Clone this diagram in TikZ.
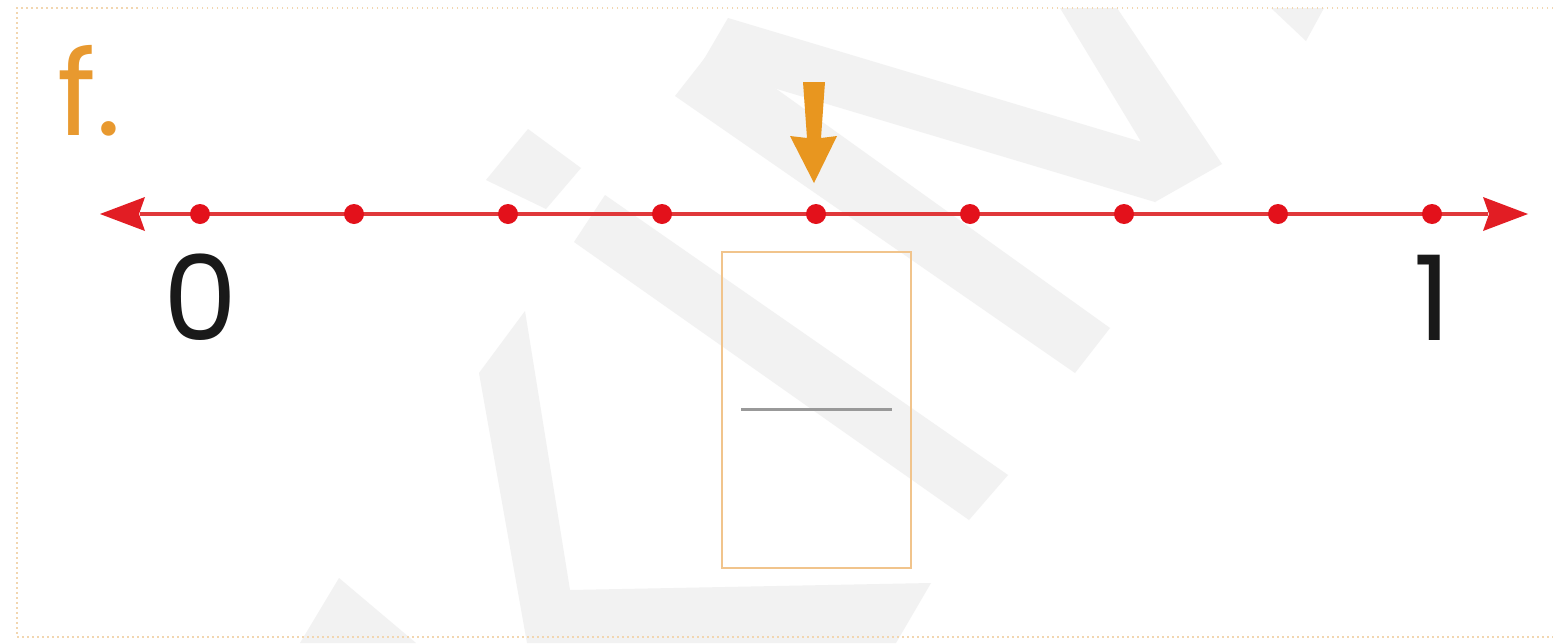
\documentclass[tikz,border=0pt]{standalone}
\usepackage{fontspec}
\newfontfamily\popfont{Poppins}
\definecolor{linered}{HTML}{E0383A}
\definecolor{dotred}{HTML}{E3111B}
\definecolor{arrowred}{HTML}{E21D24}
\definecolor{orangetxt}{HTML}{E8992F}
\definecolor{orangearrow}{HTML}{E8961F}
\definecolor{boxorange}{HTML}{F1C48C}
\definecolor{borderorange}{HTML}{F2D6B0}
\definecolor{wmgray}{HTML}{F2F2F2}
\definecolor{dashgray}{HTML}{999999}
\tikzset{
  tickdot/.style={circle, fill=dotred, draw=none, minimum size=20pt, inner sep=0pt},
  numlabel/.style={font=\popfont\fontsize{118}{118}\selectfont, text=black!90, anchor=base, inner sep=0pt},
  watermark/.style={fill=wmgray, draw=none},
  framedots/.style={draw=borderorange, line width=2pt, dash pattern=on 1.5pt off 3.5pt},
  answerbox/.style={draw=boxorange, line width=2.5pt, minimum width=189pt, minimum height=316pt, inner sep=0pt}
}
\begin{document}
\begin{tikzpicture}[x=1pt,y=-1pt]
\useasboundingbox (0,0) rectangle (1553,643);
\fill[white] (0,0) rectangle (1553,643);
% watermark
\fill[watermark] (675,96) -- (715,45) -- (1110,328) -- (1075,373) -- cycle;
\fill[watermark] (700,66) -- (728,18) -- (1152,145) -- (1155,202) -- cycle;
\fill[watermark] (1060,8) -- (1117,8) -- (1222,164) -- (1155,202) -- (1140,140) -- cycle;
\fill[watermark] (1271,8) -- (1324,8) -- (1306,41) -- cycle;
\fill[watermark] (574,242) -- (605,195) -- (1008,475) -- (969,520) -- cycle;
\fill[watermark] (486,180) -- (528,129) -- (581,168) -- (546,209) -- cycle;
\fill[watermark] (479,373) -- (525,311) -- (570,590) -- (931,583) -- (896,643) -- (527,643) -- cycle;
\fill[watermark] (300,643) -- (339,578) -- (416,643) -- cycle;
% frame
\draw[framedots] (1553,8) -- (17,8) -- (17,637) -- (1553,637);
% title
\node[font=\popfont\fontsize{118}{118}\selectfont, text=orangetxt, anchor=base west, inner sep=0pt] (title) at (57,135) {f.};
% number line
\coordinate (L) at (140,214);
\coordinate (R) at (1488,214);
\draw[linered, line width=4pt] (L) -- (R);
\fill[arrowred] (100,214) -- (145,197) -- (139,214) -- (145,231) -- cycle;
\fill[arrowred] (1528,214) -- (1483,197) -- (1489,214) -- (1483,231) -- cycle;
\foreach \i in {0,...,8} {
  \node[tickdot] (d\i) at ({200+154*\i},214) {};
}
% labels
\node[numlabel] (zero) at (201,340) {0};
\node[numlabel] (one) at (1432,340) {1};
% orange pointer arrow
\coordinate (ptop) at (814,82);
\fill[orangearrow] (803,82) -- (825,82) -- (821,138) -- (837,136) -- (814,183) -- (790,136) -- (807,138) -- cycle;
% answer box
\node[answerbox] (ans) at (816.5,410) {};
\coordinate (fl) at (741,409);
\coordinate (fr) at (892,409);
\draw[dashgray, line width=3pt] (fl) -- (fr);
\end{tikzpicture}
\end{document}
